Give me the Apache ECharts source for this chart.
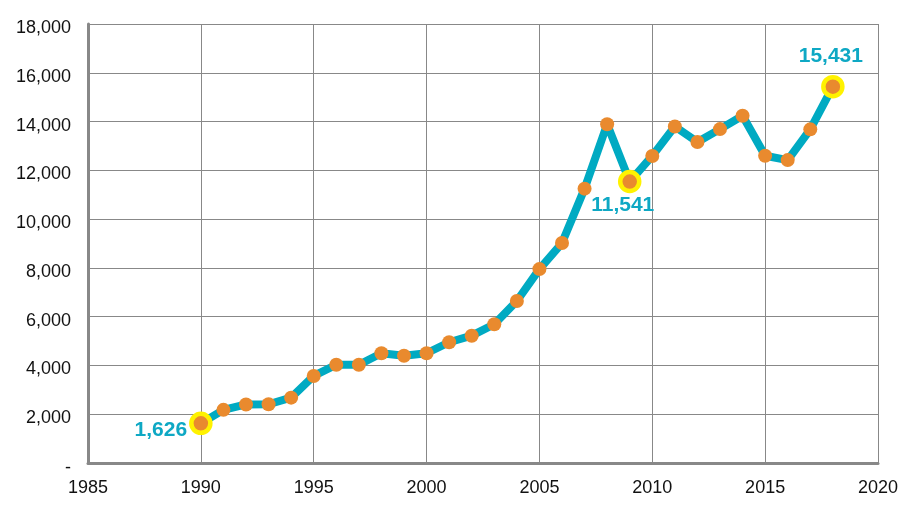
<!DOCTYPE html>
<html>
<head>
<meta charset="utf-8">
<script src="https://cdn.jsdelivr.net/npm/echarts@6/dist/echarts.min.js"></script>
<style>html,body{margin:0;padding:0;background:#fff;}#c{width:915px;height:521px;}</style>
</head>
<body>
<div id="c"></div>
<script>
const years = [1990,1991,1992,1993,1994,1995,1996,1997,1998,1999,2000,2001,2002,2003,2004,2005,2006,2007,2008,2009,2010,2011,2012,2013,2014,2015,2016,2017,2018];
const values = [1626,2180,2400,2410,2680,3570,4030,4030,4500,4400,4500,4950,5220,5690,6640,7950,9020,11250,13890,11541,12590,13800,13160,13690,14240,12600,12420,13680,15431];
const highlightYears = [1990, 2009, 2018];
const yTicks = [0,2000,4000,6000,8000,10000,12000,14000,16000,18000];
const xTicks = [1985,1990,1995,2000,2005,2010,2015,2020];

const FONT = "'Liberation Sans', Arial, sans-serif";
const TEAL = '#00AAC2';
const LABEL_TEAL = '#0EA8C4';
const ORANGE = '#E98A2E';
const YELLOW = '#FFF200';

const labelCfg = {
  1990: {position: 'left', distance: 2, offset: [0, 7]},
  2009: {position: 'bottom', distance: 1, offset: [-7, 0]},
  2018: {position: 'top', distance: 8, offset: [-2, 0]}
};

const data = years.map((y, i) => {
  const item = {value: [y, values[i]]};
  if (highlightYears.includes(y)) {
    item.symbolSize = 19;
    item.itemStyle = {color: ORANGE, borderColor: YELLOW, borderWidth: 4.5};
    item.label = Object.assign({
      show: true,
      formatter: (p) => p.value[1].toLocaleString('en-US'),
      color: LABEL_TEAL,
      fontSize: 21,
      fontWeight: 'bold',
      fontFamily: FONT
    }, labelCfg[y]);
  }
  return item;
});

const chart = echarts.init(document.getElementById('c'), null, {renderer: 'canvas'});
chart.setOption({
  animation: false,
  backgroundColor: '#fff',
  grid: {left: 88, right: 37, top: 24, bottom: 58, containLabel: false},
  xAxis: {
    type: 'value',
    min: xTicks[0], max: xTicks[xTicks.length - 1], interval: 5,
    axisLine: {show: true, onZero: false, lineStyle: {color: '#888', width: 3}},
    axisTick: {show: false},
    axisLabel: {color: '#111', fontSize: 18, fontFamily: FONT, margin: 16, formatter: (v) => String(v)},
    splitLine: {show: true, lineStyle: {color: '#888', width: 1}}
  },
  yAxis: {
    type: 'value',
    min: yTicks[0], max: yTicks[yTicks.length - 1], interval: 2000,
    axisLine: {show: true, lineStyle: {color: '#888', width: 3}},
    axisTick: {show: false},
    axisLabel: {color: '#111', fontSize: 18, fontFamily: FONT, margin: 17,
      formatter: (v) => v === 0 ? '{d|-}' : '{n|' + v.toLocaleString('en-US') + '}',
      rich: {
        d: {fontSize: 18, fontFamily: FONT, color: '#111', padding: [11, 0, 0, 0]},
        n: {fontSize: 18, fontFamily: FONT, color: '#111', padding: [8, 0, 0, 0]}
      }},
    splitLine: {show: true, lineStyle: {color: '#888', width: 1}}
  },
  series: [{
    type: 'line',
    data: data,
    symbol: 'circle',
    symbolSize: 14,
    showAllSymbol: true,
    lineStyle: {color: TEAL, width: 8},
    itemStyle: {color: ORANGE, borderWidth: 0},
    z: 3
  }]
});
</script>
</body>
</html>
